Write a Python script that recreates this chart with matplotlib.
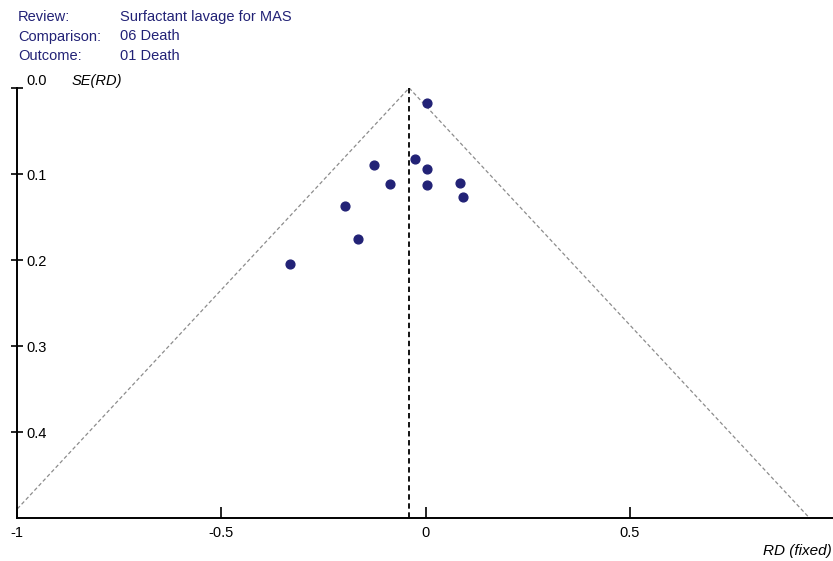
import matplotlib
matplotlib.use("Agg")
import matplotlib.pyplot as plt

plt.rcParams['font.family'] = ['Liberation Sans', 'DejaVu Sans']

# header info
header_keys = ["Review:", "Comparison:", "Outcome:"]
header_vals = ["Surfactant lavage for MAS", "06 Death", "01 Death"]

# study estimates (risk difference) and standard errors
rd = [0.004, -0.025, 0.003, -0.126, -0.086, 0.003, 0.085, 0.092, -0.197, -0.166, -0.331]
se = [0.018, 0.083, 0.094, 0.090, 0.112, 0.113, 0.110, 0.127, 0.137, 0.176, 0.205]

pooled_rd = -0.04
se_max = 0.5
x_ticks = [-1, -0.5, 0, 0.5]
x_labels = ["-1", "-0.5", "0", "0.5"]
y_ticks = [0.0, 0.1, 0.2, 0.3, 0.4]
y_labels = ["0.0", "0.1", "0.2", "0.3", "0.4"]

W, H = 833, 561
fig = plt.figure(figsize=(W / 100, H / 100), dpi=100)
ax = fig.add_axes([17 / W, 43 / H, 817 / W, 430 / H])

navy = "#222276"

# funnel lines (95% limits around the pooled estimate)
ax.plot([pooled_rd - 1.96 * se_max, pooled_rd, pooled_rd + 1.96 * se_max],
        [se_max, 0, se_max], color="#8c8c8c", lw=0.9, ls=(0, (3, 2)))
ax.plot([pooled_rd, pooled_rd], [0, se_max], color="black", lw=1.3, ls=(0, (3, 2)))

ax.scatter(rd, se, s=40, color=navy, zorder=3)

ax.set_xlim(-1, 1)
ax.set_ylim(se_max, 0)

for side in ["top", "right"]:
    ax.spines[side].set_visible(False)
for side in ["left", "bottom"]:
    ax.spines[side].set_linewidth(1.4)

ax.set_xticks(x_ticks)
ax.set_xticklabels(x_labels)
ax.set_yticks(y_ticks)
ax.set_yticklabels(y_labels)
ax.tick_params(axis="x", direction="in", length=8, width=1.2, pad=6, labelsize=10.5)
ax.tick_params(axis="y", direction="inout", length=9, width=1.2, pad=-11, labelsize=10.5)
plt.setp(ax.get_yticklabels(), ha="left")
ax.get_yticklabels()[0].set_va("bottom")

ax.text(55 / 817, 1.0, "SE(RD)", transform=ax.transAxes, style="italic",
        fontsize=10.5, va="bottom")
fig.text(832 / W, 3 / H, "RD (fixed)", style="italic", fontsize=11,
         ha="right", va="bottom")

for i in range(len(header_keys)):
    y = 1 - (17 + 19.5 * i) / H
    fig.text(18 / W, y, header_keys[i], color=navy, fontsize=10.5, va="center")
    fig.text(120 / W, y, header_vals[i], color=navy, fontsize=10.5, va="center")

fig.savefig("out.png", dpi=100)
